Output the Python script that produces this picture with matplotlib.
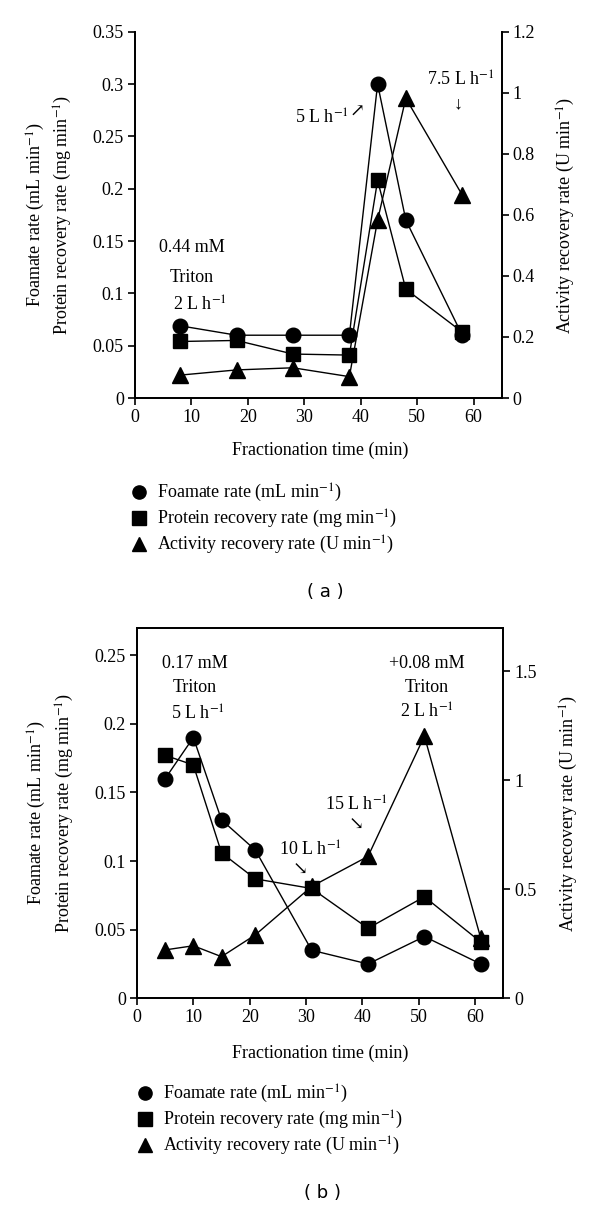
import matplotlib
matplotlib.use('Agg')
import matplotlib.pyplot as plt
from matplotlib.lines import Line2D
from matplotlib.ticker import FuncFormatter

plt.rcParams['font.family'] = ['Liberation Serif', 'DejaVu Serif', 'DejaVu Sans']
plt.rcParams['mathtext.fontset'] = 'stix'
plt.rcParams['font.size'] = 13

# ---------------- data ----------------
time_a = [8, 18, 28, 38, 43, 48, 58]
foamate_a = [0.069, 0.060, 0.060, 0.060, 0.300, 0.170, 0.060]
protein_a = [0.054, 0.055, 0.042, 0.041, 0.208, 0.104, 0.063]
activity_a = [0.075, 0.092, 0.099, 0.070, 0.583, 0.982, 0.665]

time_b = [5, 10, 15, 21, 31, 41, 51, 61]
foamate_b = [0.160, 0.190, 0.130, 0.108, 0.035, 0.025, 0.045, 0.025]
protein_b = [0.177, 0.170, 0.106, 0.087, 0.080, 0.051, 0.074, 0.041]
activity_b = [0.222, 0.241, 0.191, 0.291, 0.513, 0.651, 1.203, 0.276]

x_ticks = [0, 10, 20, 30, 40, 50, 60]
left_ticks_a = [0, 0.05, 0.1, 0.15, 0.2, 0.25, 0.3, 0.35]
right_ticks_a = [0, 0.2, 0.4, 0.6, 0.8, 1.0, 1.2]
left_ticks_b = [0, 0.05, 0.1, 0.15, 0.2, 0.25]
right_ticks_b = [0, 0.5, 1.0, 1.5]

legend_labels = ['Foamate rate (mL min$^{-1}$)',
                 'Protein recovery rate (mg min$^{-1}$)',
                 'Activity recovery rate (U min$^{-1}$)']
ylabel_left_1 = 'Foamate rate (mL min$^{-1}$)'
ylabel_left_2 = 'Protein recovery rate (mg min$^{-1}$)'
ylabel_right = 'Activity recovery rate (U min$^{-1}$)'
xlabel = 'Fractionation time (min)'

W, H = 600, 1210
FS = 13
fig = plt.figure(figsize=(W / 100, H / 100), dpi=100)
fmt = FuncFormatter(lambda v, p: '%g' % round(v, 3))

MS = 10.5
LW = 1.0


def px(x, y):
    return x / W, 1 - y / H


def txt(x, y, s, **kw):
    fig.text(*px(x, y), s, ha='center', va='center', fontsize=FS, **kw)


def setup(ax, ax2, lticks, rticks, ylim_l, ylim_r, top_spine):
    ax.set_xlim(0, 65)
    ax.set_ylim(*ylim_l)
    ax2.set_ylim(*ylim_r)
    ax.set_xticks(x_ticks)
    ax.set_yticks(lticks)
    ax2.set_yticks(rticks)
    ax.yaxis.set_major_formatter(fmt)
    ax2.yaxis.set_major_formatter(fmt)
    for a in (ax, ax2):
        a.tick_params(direction='out', length=5, width=1.2, labelsize=FS, pad=3)
        for s in a.spines.values():
            s.set_linewidth(1.3)
        a.spines['top'].set_visible(top_spine)
        a.patch.set_visible(False)


def draw(ax, ax2, t, f, p, a):
    ax.plot(t, f, color='black', lw=LW, marker='o', ms=MS, zorder=3)
    ax.plot(t, p, color='black', lw=LW, marker='s', ms=MS - 0.5, zorder=3)
    ax2.plot(t, a, color='black', lw=LW, marker='^', ms=MS + 1, zorder=3)


def legend(xpx, ypx):
    handles = [Line2D([], [], color='black', marker=m, ms=s, linestyle='none')
               for m, s in (('o', 9.5), ('s', 9.5), ('^', 10.5))]
    fig.legend(handles, legend_labels, loc='upper left',
               bbox_to_anchor=px(xpx, ypx), frameon=False, fontsize=FS,
               handlelength=1.0, handletextpad=0.5, labelspacing=0.2,
               borderpad=0, borderaxespad=0)


# ---------------- panel (a) ----------------
axA = fig.add_axes([0.225, 0.67107, 0.6112, 0.30273])
axA2 = axA.twinx()
setup(axA, axA2, left_ticks_a, right_ticks_a, (0, 0.35), (0, 1.2), False)
draw(axA, axA2, time_a, foamate_a, protein_a, activity_a)
txt(320, 450, xlabel)

txt(36, 215, ylabel_left_1, rotation=90)
txt(63, 215, ylabel_left_2, rotation=90)
txt(566, 215, ylabel_right, rotation=90)

txt(192, 247, '0.44 mM')
txt(192, 277, 'Triton')
txt(200, 305, '2 L h$^{-1}$')
txt(322, 118, '5 L h$^{-1}$')
txt(357, 112, '\u2197')
txt(461, 80, '7.5 L h$^{-1}$')
txt(458, 104, '\u2193')

legend(130, 482)
txt(325, 592, '( a )', family='DejaVu Sans')

# ---------------- panel (b) ----------------
axB = fig.add_axes([0.2283, 0.17496, 0.6105, 0.30628])
axB2 = axB.twinx()
setup(axB, axB2, left_ticks_b, right_ticks_b, (0, 0.27), (0, 1.7), True)
draw(axB, axB2, time_b, foamate_b, protein_b, activity_b)
txt(320, 1053, xlabel)

txt(37, 813, ylabel_left_1, rotation=90)
txt(65, 813, ylabel_left_2, rotation=90)
txt(569, 813, ylabel_right, rotation=90)

txt(195, 664, '0.17 mM')
txt(195, 688, 'Triton')
txt(198, 714, '5 L h$^{-1}$')
txt(427, 664, '+0.08 mM')
txt(427, 688, 'Triton')
txt(427, 712, '2 L h$^{-1}$')
txt(356, 805, '15 L h$^{-1}$')
txt(356, 825, '\u2198')
txt(310, 850, '10 L h$^{-1}$')
txt(300, 870, '\u2198')

legend(136, 1083)
txt(322, 1193, '( b )', family='DejaVu Sans')

fig.savefig('out.png', dpi=100)
